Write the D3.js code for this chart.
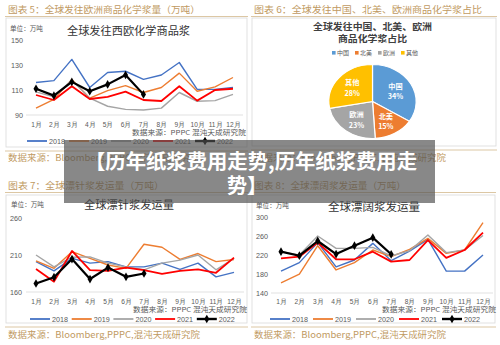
<!DOCTYPE html>
<html><head><meta charset="utf-8">
<script src="https://cdn.jsdelivr.net/npm/d3@7/dist/d3.min.js"></script>
<style>
body{margin:0;background:#fff;}
svg{display:block;font-family:"Noto Sans CJK SC","Noto Sans",sans-serif;}
</style>
</head><body>
<svg id="c" width="500" height="345"></svg>
<script>
// ---------- DATA ----------
const months = ["1月","2月","3月","4月","5月","6月","7月","8月","9月","10月","11月","12月"];
const years = ["2018","2019","2020","2021","2022"];

// Chart 5: 全球发往西欧化学商品浆 (万吨)
const euro2018 = [116, 117.5, 134.5, 112, 124, 125, 118.5, 122, 132, 110.5, 110.5, 112];
const euro2019 = [95.5, 102.5, 118.5, 103.5, 109.5, 113.5, 108, 112, 123.5, 109, 112.5, 120];
const euro2020 = [108.5, 104.5, 118, 103.5, 97, 94.5, 94, 95.5, 108, 101, 101.5, 106.5];
const euro2021 = [106, 102, 113, 102.8, 104.5, 108.7, 102, 101.2, 113, 101.5, 110, 111];
const euro2022 = [111, 105.5, 116.5, 109, 114.5, 122, 106.5];
const euroTicks = [90, 110, 130, 150];

// Chart 6: 占比
const pieCats = ["中国", "北美", "欧洲", "其他"];
const pieVals = [34, 15, 23, 28];

// Chart 7: 全球漂针浆发运量
const sw2018 = [201, 188.5, 205.5, 199, 201, 194, 194, 199, 190.5, 199, 180.5, 186.5];
const sw2019 = [202, 192, 214.5, 205.5, 196.5, 192, 224.5, 220.5, 204, 212, 201, 204];
const sw2020 = [210, 194, 207, 207.5, 199, 194, 190, 199, 203, 210, 190, 205.5];
const sw2021 = [191, 174, 215.5, 189.5, 188.5, 193, 189.5, 184.5, 188.5, 190.5, 186, 206.5];
const sw2022 = [171.5, 180, 204.5, 177.5, 193, 180.5, 185];
const swTicks = [160, 210, 260];

// Chart 8: 全球漂阔浆发运量
const hw2018 = [186, 204, 246, 195, 209.5, 244.5, 208, 228, 253, 186, 186, 220];
const hw2019 = [161.5, 179.5, 239.5, 188.5, 204, 230.5, 216.5, 232, 255, 223.5, 230.5, 288];
const hw2020 = [227, 220, 260, 234, 234, 236, 218, 229, 262, 225, 230.5, 261];
const hw2021 = [213, 216.5, 246, 211, 211, 227, 206, 209.5, 251.5, 214, 230.5, 267];
const hw2022 = [227, 218.5, 249.5, 222, 239.5, 256.5, 221.5];
const hwTicks = [140, 180, 220, 260, 300];

// ---------- STYLE ----------
const yearColor = {"2018":"#4472c4","2019":"#ed7d31","2020":"#a5a5a5","2021":"#ff0000","2022":"#000000"};
const yearWidth = {"2018":1.4,"2019":1.4,"2020":1.4,"2021":1.8,"2022":2.2};
const pieColor = {"中国":"#5b9bd5","北美":"#ed7d31","欧洲":"#a5a5a5","其他":"#ffc000"};
const tan = "#bf9a62", tanLine = "#dcc7a4", frameCol = "#d9d9d9", axisTxt = "#595959";

const svg = d3.select("#c");

function fitText(sel, len) {
  return sel.attr("textLength", len).attr("lengthAdjust", "spacingAndGlyphs");
}

function panelChrome(x0, x1, headerY, header, headerLen, frameTop, frameBottom, srcY) {
  fitText(svg.append("text").attr("x", x0 + 3).attr("y", headerY).attr("fill", tan)
    .attr("font-size", 9.2).text(header), headerLen);
  svg.append("line").attr("x1", x0).attr("x2", x1).attr("y1", headerY + 3.5).attr("y2", headerY + 3.5)
    .attr("stroke", tanLine).attr("stroke-width", 1);
  svg.append("rect").attr("x", x0 + 1).attr("y", frameTop).attr("width", x1 - x0 - 2)
    .attr("height", frameBottom - frameTop).attr("fill", "none").attr("stroke", frameCol).attr("stroke-width", 0.8);
  svg.append("line").attr("x1", x0).attr("x2", x1).attr("y1", frameBottom + 4).attr("y2", frameBottom + 4)
    .attr("stroke", tanLine).attr("stroke-width", 1);
  fitText(svg.append("text").attr("x", x0 + 3).attr("y", srcY).attr("fill", tan)
    .attr("font-size", 8.6).text("数据来源：Bloomberg,PPPC,混沌天成研究院"), 192);
}

function lineChart(cfg) {
  const x = d3.scalePoint().domain(months).range(cfg.xr);
  const y = d3.scaleLinear().domain(cfg.yd).range(cfg.yr);
  const g = svg.append("g");
  g.append("text").attr("x", cfg.unitX).attr("y", cfg.unitY).attr("font-size", 6.6).attr("fill", axisTxt).text("单位：万吨");
  fitText(g.append("text").attr("x", cfg.titleX).attr("y", cfg.titleY)
    .attr("font-size", 11).attr("fill", "#333").text(cfg.title), cfg.titleLen);
  const ya = g.append("g").attr("transform", `translate(${cfg.yLabelX},0)`)
    .call(d3.axisLeft(y).tickValues(cfg.ticks).tickSize(0).tickPadding(0));
  ya.select(".domain").remove();
  ya.selectAll("text").attr("font-size", 7.2).attr("fill", axisTxt).attr("font-family", "Liberation Sans, Arial, sans-serif");
  g.append("line").attr("x1", cfg.xr[0] - 10).attr("x2", cfg.xr[1] + 10)
    .attr("y1", y(cfg.yd[0])).attr("y2", y(cfg.yd[0])).attr("stroke", "#d9d9d9").attr("stroke-width", 0.8);
  const xa = g.append("g").attr("transform", `translate(0,${cfg.xLabelY})`)
    .call(d3.axisBottom(x).tickSize(0).tickPadding(0));
  xa.select(".domain").remove();
  xa.selectAll("text").attr("font-size", 6.6).attr("fill", axisTxt).attr("dy", "0.3em");
  fitText(g.append("text").attr("x", cfg.xr[1] + 13 - 114).attr("y", cfg.srcY)
    .attr("font-size", 6.4).attr("fill", axisTxt).text("数据来源：PPPC  混沌天成研究院"), 114);
  const line = d3.line().x((d, i) => x(months[i])).y(d => y(d));
  cfg.series.forEach((vals, k) => {
    const yr = years[k];
    g.append("path").datum(vals).attr("d", line).attr("fill", "none")
      .attr("stroke", yearColor[yr]).attr("stroke-width", yearWidth[yr]).attr("stroke-linejoin", "round");
    if (yr === "2022") {
      g.selectAll(null).data(vals).enter().append("path")
        .attr("d", d3.symbol(d3.symbolDiamond, 22))
        .attr("transform", (d, i) => `translate(${x(months[i])},${y(d)})`).attr("fill", "#000");
    }
  });
  years.forEach((yr, k) => {
    const lx = cfg.legX + k * cfg.legStep;
    g.append("line").attr("x1", lx).attr("x2", lx + 20).attr("y1", cfg.legY).attr("y2", cfg.legY)
      .attr("stroke", yearColor[yr]).attr("stroke-width", yr === "2022" ? 2.4 : 1.8);
    if (yr === "2022") g.append("path").attr("d", d3.symbol(d3.symbolDiamond, 22))
      .attr("transform", `translate(${lx + 10},${cfg.legY})`).attr("fill", "#000");
    g.append("text").attr("x", lx + 22).attr("y", cfg.legY).attr("dy", "0.35em")
      .attr("font-size", 7.2).attr("fill", axisTxt).attr("font-family", "Liberation Sans, Arial, sans-serif").text(yr);
  });
}

// ---------- PANELS ----------
panelChrome(5, 248, 13, "图表 5：全球发往欧洲商品化学浆量（万吨）", 192, 18, 147, 161);
lineChart({xr: [36, 233], yd: [90, 150], yr: [115, 40], ticks: euroTicks,
  yLabelX: 23, xLabelY: 125, unitX: 10, unitY: 31, title: "全球发往西欧化学商品浆", titleX: 67, titleLen: 123, titleY: 35,
  srcY: 134.5, legX: 27, legStep: 42, legY: 141,
  series: [euro2018, euro2019, euro2020, euro2021, euro2022]});

panelChrome(251, 497, 13, "图表 6：全球发往中国、北美、欧洲商品化学浆占比", 228, 18, 146, 161);
(function pie() {
  const cx = 372.5, cy = 101.5, r = 37, sx = 1.18;
  fitText(svg.append("text").attr("x", 313).attr("y", 30).attr("font-size", 9.6)
    .attr("font-weight", "bold").attr("fill", "#404040").text("全球发往中国、北美、欧洲"), 119);
  fitText(svg.append("text").attr("x", 338).attr("y", 42).attr("font-size", 9.6)
    .attr("font-weight", "bold").attr("fill", "#404040").text("商品化学浆占比"), 69);
  const legXs = d3.scalePoint().domain(pieCats).range([332, 401]);
  pieCats.forEach(c => {
    svg.append("rect").attr("x", legXs(c)).attr("y", 51).attr("width", 3.6).attr("height", 3.6).attr("fill", pieColor[c]);
    svg.append("text").attr("x", legXs(c) + 5).attr("y", 53).attr("dy", "0.35em").attr("font-size", 6)
      .attr("fill", axisTxt).text(c);
  });
  const arcs = d3.pie().sort(null).value(d => d)(pieVals);
  const arc = d3.arc().innerRadius(0).outerRadius(r);
  const lab = d3.arc().innerRadius(r * 0.6).outerRadius(r * 0.6);
  const g = svg.append("g").attr("transform", `translate(${cx},${cy}) scale(${sx},1)`);
  g.selectAll("path").data(arcs).enter().append("path").attr("d", arc)
    .attr("fill", (d, i) => pieColor[pieCats[i]]).attr("stroke", "#fff").attr("stroke-width", 1.2)
    .attr("vector-effect", "non-scaling-stroke");
  arcs.forEach((d, i) => {
    const [lx, ly] = lab.centroid(d);
    const t = svg.append("text").attr("text-anchor", "middle").attr("fill", "#fff").attr("font-size", 7.2)
      .attr("font-weight", "bold");
    t.append("tspan").attr("x", cx + lx * sx).attr("y", cy + ly - 2).text(pieCats[i]);
    t.append("tspan").attr("x", cx + lx * sx).attr("y", cy + ly + 8.5).text(pieVals[i] + "%");
  });
})();

panelChrome(5, 248, 189, "图表 7：全球漂针浆发运量（万吨）", 156, 195, 323, 338);
lineChart({xr: [36, 234], yd: [160, 260], yr: [292, 218], ticks: swTicks,
  yLabelX: 22, xLabelY: 302, unitX: 11, unitY: 207, title: "全球漂针浆发运量", titleX: 84, titleLen: 90, titleY: 209,
  srcY: 312, legX: 30, legStep: 41.7, legY: 319,
  series: [sw2018, sw2019, sw2020, sw2021, sw2022]});

panelChrome(251, 496, 189, "图表 8：全球漂阔浆发运量（万吨）", 152, 195, 323, 338);
lineChart({xr: [281, 483], yd: [140, 300], yr: [293, 217], ticks: hwTicks,
  yLabelX: 268, xLabelY: 302, unitX: 256, unitY: 208, title: "全球漂阔浆发运量", titleX: 328, titleLen: 92, titleY: 211,
  srcY: 312, legX: 270, legStep: 43, legY: 319,
  series: [hw2018, hw2019, hw2020, hw2021, hw2022]});

// ---------- OVERLAY ----------
svg.append("rect").attr("x", 64).attr("y", 140).attr("width", 371).attr("height", 63)
  .attr("fill", "rgb(80,80,80)").attr("fill-opacity", 0.68);
fitText(svg.append("text").attr("x", 85).attr("y", 169).attr("fill", "#fff")
  .attr("font-size", 20).attr("font-weight", "bold").text("【历年纸浆费用走势,历年纸浆费用走"), 332);
svg.append("text").attr("x", 247).attr("y", 193).attr("text-anchor", "middle").attr("fill", "#fff")
  .attr("font-size", 20).attr("font-weight", "bold").text("势】");
</script>
</body></html>
